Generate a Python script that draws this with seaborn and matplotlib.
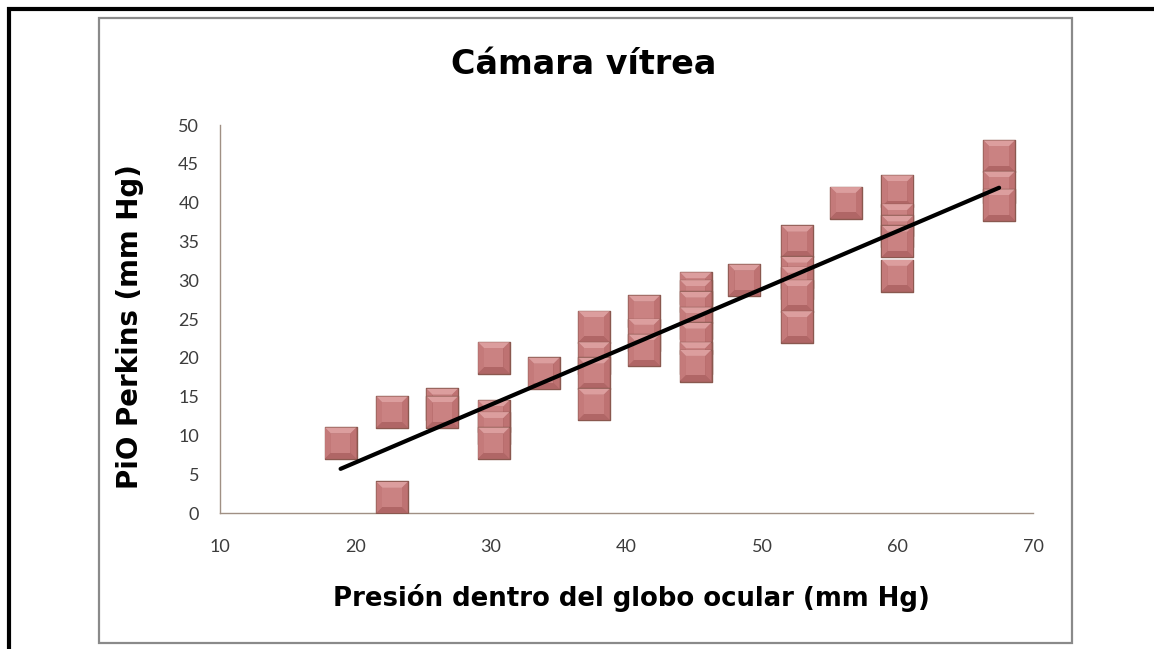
import numpy as np
import pandas as pd
import seaborn as sns
import matplotlib
matplotlib.use("Agg")
import matplotlib.pyplot as plt
from matplotlib.lines import Line2D
from matplotlib.patches import Rectangle
from matplotlib.path import Path

# Presión dentro del globo ocular (mm Hg) vs PiO Perkins (mm Hg)
presion_globo = [18.9,
                 22.7, 22.7,
                 26.4, 26.4,
                 30.2, 30.2, 30.2, 30.2,
                 33.9,
                 37.6, 37.6, 37.6, 37.6,
                 41.3, 41.3, 41.3,
                 45.1, 45.1, 45.1, 45.1, 45.1, 45.1, 45.1,
                 48.7,
                 52.6, 52.6, 52.6, 52.6, 52.6,
                 56.2,
                 60.0, 60.0, 60.0, 60.0, 60.0,
                 67.5, 67.5, 67.5]
pio_perkins = [9.0,
               13.0, 2.0,
               14.0, 13.0,
               20.0, 12.5, 11.0, 9.0,
               18.0,
               24.0, 20.0, 18.0, 14.0,
               26.0, 23.0, 21.0,
               29.0, 28.0, 26.5, 24.5, 22.5, 20.0, 19.0,
               30.0,
               35.0, 31.0, 29.7, 28.0, 24.0,
               40.0,
               41.5, 37.8, 36.3, 35.0, 30.6,
               46.0, 42.0, 39.7]

x_ticks = [10, 20, 30, 40, 50, 60, 70]
y_ticks = [0, 5, 10, 15, 20, 25, 30, 35, 40, 45, 50]

titulo = "Cámara vítrea"
etiqueta_x = "Presión dentro del globo ocular (mm Hg)"
etiqueta_y = "PiO Perkins (mm Hg)"

df = pd.DataFrame({"presion": presion_globo, "pio": pio_perkins})

sns.set_theme(style="white")
plt.rcParams["font.family"] = ["DejaVu Sans"]

W, H = 1154, 649
fig = plt.figure(figsize=(W / 100, H / 100), dpi=100)
fig.patch.set_facecolor("white")

# page frame (black) and chart-area border (gray)
fig.add_artist(Line2D([7 / W, 1.0], [1 - 9 / H, 1 - 9 / H], color="black",
                      lw=3.0, solid_capstyle="butt"))
fig.add_artist(Line2D([9 / W, 9 / W], [1 - 7 / H, 0.0], color="black",
                      lw=3.0, solid_capstyle="butt"))
fig.add_artist(Rectangle((99 / W, 1 - 642.5 / H), (1071.5 - 99) / W,
                         (642.5 - 18) / H, transform=fig.transFigure,
                         fill=False, edgecolor="#8a8a8a", lw=1.6))

ax = fig.add_axes([220 / W, 1 - 513 / H, (1033 - 220) / W, (513 - 125) / H])
ax.set_facecolor("none")

# bevelled square markers: outlined base, four bevel faces, flat centre
msize = 540
b = 0.62
faces = {
    "top": [(-1, 1), (1, 1), (b, b), (-b, b)],
    "bottom": [(-1, -1), (1, -1), (b, -b), (-b, -b)],
    "left": [(-1, -1), (-1, 1), (-b, b), (-b, -b)],
    "right": [(1, -1), (1, 1), (b, b), (b, -b)],
    "centre": [(-b, -b), (b, -b), (b, b), (-b, b)],
}
face_colors = [("left", "#c47a7a"), ("right", "#be7272"),
               ("bottom", "#b06666"), ("top", "#dc9e9e"),
               ("centre", "#ca8282")]


def face_path(verts):
    pts = np.array(verts + [verts[0]], dtype=float)
    codes = [Path.MOVETO] + [Path.LINETO] * (len(pts) - 2) + [Path.CLOSEPOLY]
    # two extra corner moves keep every face at the full marker scale
    pts = np.vstack([pts, [[1.0, 1.0], [-1.0, -1.0]]])
    codes += [Path.MOVETO, Path.MOVETO]
    return Path(pts, codes)


base_path = face_path([(-1, -1), (1, -1), (1, 1), (-1, 1)])
face_paths = {k: face_path(v) for k, v in faces.items()}

# each point is drawn whole before the next, so later squares sit on top
for i, row in df.iterrows():
    one = df.iloc[[i]]
    z = 3 + i * 0.01
    sns.scatterplot(data=one, x="presion", y="pio", ax=ax, marker=base_path,
                    s=msize, color="#b06666", edgecolor="#8a584f",
                    linewidth=1.0, legend=False, zorder=z)
    for name, col in face_colors:
        sns.scatterplot(data=one, x="presion", y="pio", ax=ax,
                        marker=face_paths[name], s=msize * 0.93, color=col,
                        edgecolor="none", linewidth=0, legend=False,
                        zorder=z + 0.001)

# least-squares trend line over the data range
sns.regplot(data=df, x="presion", y="pio", ax=ax, scatter=False, ci=None,
            truncate=True, color="black", line_kws={"lw": 3.0, "zorder": 10})

ax.set_xlim(10, 70)
ax.set_ylim(0, 50)
ax.set_xticks(x_ticks)
ax.set_yticks(y_ticks)
ax.set_xticklabels([str(v) for v in x_ticks])
ax.set_yticklabels([str(v) for v in y_ticks])

for side in ["top", "right"]:
    ax.spines[side].set_visible(False)
for side in ["left", "bottom"]:
    ax.spines[side].set_color("#a09084")
    ax.spines[side].set_linewidth(1.0)

ax.tick_params(axis="x", direction="out", length=4, width=1.0,
               color="#a09084", pad=15, labelsize=13, labelcolor="#3c3c3c")
ax.tick_params(axis="y", direction="out", length=3, width=1.0,
               color="#a09084", pad=12, labelsize=13, labelcolor="#3c3c3c")
for lab in ax.get_xticklabels() + ax.get_yticklabels():
    lab.set_family(["Lato", "DejaVu Sans"])

ax.set_xlabel(etiqueta_x, fontsize=18.7, fontweight="bold", color="black",
              va="center")
ax.set_ylabel(etiqueta_y, fontsize=19.9, fontweight="bold", color="black",
              va="center")
ax.xaxis.set_label_coords((631 - 220) / 813, (513 - 598) / 388)
ax.yaxis.set_label_coords((130 - 220) / 813, (513 - 327) / 388)

fig.text(584 / W, 1 - 64 / H, titulo, fontsize=24, fontweight="bold",
         ha="center", va="center", color="black")

fig.savefig("out.png", dpi=100, facecolor="white")
